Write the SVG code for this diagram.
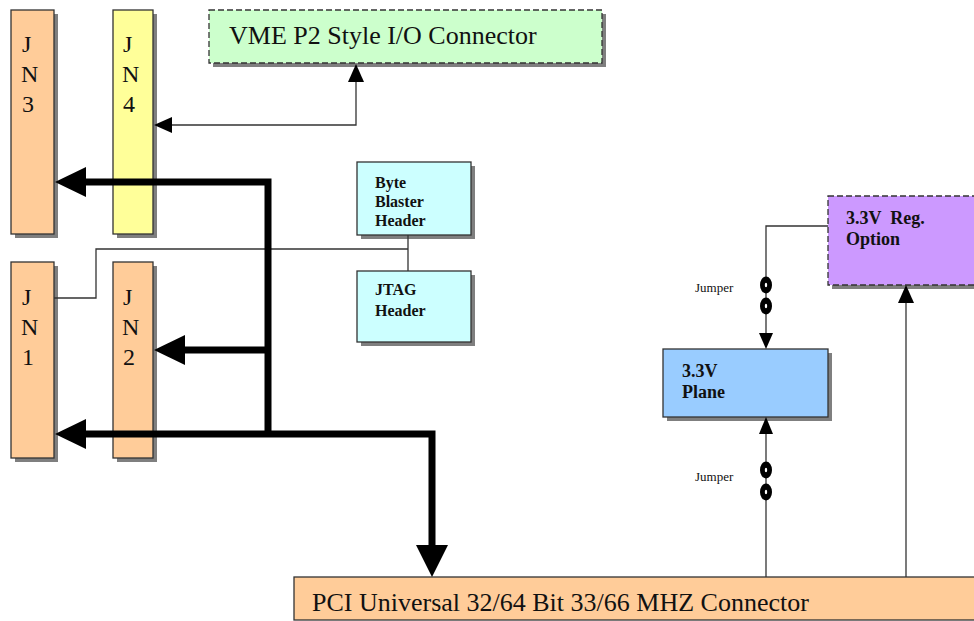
<svg xmlns="http://www.w3.org/2000/svg" width="974" height="621" viewBox="0 0 974 621">
<style>
.box{stroke:#333;stroke-width:1.3}
.sh{fill:#7f7f7f}
.dash{stroke-dasharray:6,3}
text{font-family:'Liberation Serif','Times New Roman','DejaVu Serif',serif;fill:#111}
.big{font-size:24px}
.lbl{font-size:26px}
.bold{font-weight:bold;font-size:16px}
.bold18{font-weight:bold;font-size:18px}
.small{font-size:13px}
.thin{fill:none;stroke:#333;stroke-width:1.3}
.bus{fill:none;stroke:#000;stroke-width:7}
</style>
<rect width="974" height="621" fill="#fff"/>
<g id="jn3">
<rect class="sh" x="15" y="14" width="43" height="224"/>
<rect class="box" x="11" y="10" width="43" height="224" fill="#FFCC99"/>
<text class="big" x="22" y="52">J</text><text class="big" x="21" y="82">N</text><text class="big" x="22" y="112">3</text>
</g>
<g id="jn4">
<rect class="sh" x="117" y="14" width="40" height="224"/>
<rect class="box" x="113" y="10" width="40" height="224" fill="#FFFF99"/>
<text class="big" x="123" y="52">J</text><text class="big" x="122" y="82">N</text><text class="big" x="123" y="112">4</text>
</g>
<g id="jn1">
<rect class="sh" x="15" y="266" width="43" height="196"/>
<rect class="box" x="11" y="262" width="43" height="196" fill="#FFCC99"/>
<text class="big" x="22" y="305">J</text><text class="big" x="21" y="335">N</text><text class="big" x="22" y="365">1</text>
</g>
<g id="jn2">
<rect class="sh" x="117" y="266" width="40" height="196"/>
<rect class="box" x="113" y="262" width="40" height="196" fill="#FFCC99"/>
<text class="big" x="123" y="305">J</text><text class="big" x="122" y="335">N</text><text class="big" x="123" y="365">2</text>
</g>
<g id="vme">
<rect class="sh" x="213" y="14" width="393" height="53"/>
<rect class="box dash" x="209" y="10" width="393" height="53" fill="#CCFFCC"/>
<text class="lbl" x="229" y="44">VME P2 Style I/O Connector</text>
</g>
<g id="byteblaster">
<rect class="sh" x="361" y="166" width="114" height="73"/>
<rect class="box" x="357" y="162" width="114" height="73" fill="#CCFFFF"/>
<text class="bold" x="375" y="188">Byte</text><text class="bold" x="375" y="207">Blaster</text><text class="bold" x="375" y="226">Header</text>
</g>
<g id="jtag">
<rect class="sh" x="361" y="275" width="114" height="71"/>
<rect class="box" x="357" y="271" width="114" height="71" fill="#CCFFFF"/>
<text class="bold" x="375" y="295">JTAG</text><text class="bold" x="375" y="316">Header</text>
</g>
<g id="reg">
<rect class="sh" x="832" y="200" width="150" height="89"/>
<rect class="box dash" x="828" y="196" width="150" height="89" fill="#CC99FF"/>
<text class="bold18" x="846" y="224" xml:space="preserve">3.3V  Reg.</text><text class="bold18" x="846" y="245">Option</text>
</g>
<g id="plane">
<rect class="sh" x="667" y="353" width="165" height="68"/>
<rect class="box" x="663" y="349" width="165" height="68" fill="#99CCFF"/>
<text class="bold18" x="682" y="377">3.3V</text><text class="bold18" x="682" y="398">Plane</text>
</g>
<g id="pci">
<rect class="box" x="294" y="577" width="690" height="43" fill="#FFCC99"/>
<text class="lbl" x="312" y="611">PCI Universal 32/64 Bit 33/66 MHZ Connector</text>
</g>
<g id="connectors">
<path class="thin" d="M172,125 H356 V80"/>
<polygon points="154,125 172,117 172,133" fill="#000"/>
<polygon points="356,64 348,82 364,82" fill="#000"/>
<path class="thin" d="M54,298 H96 V249 H408 M408,235 V271"/>
<path class="bus" d="M268,434 V182 H84 M268,350 H184 M432,545 V434 H84"/>
<polygon points="55,182 86,167 86,197" fill="#000"/>
<polygon points="154,350 185,335 185,365" fill="#000"/>
<polygon points="55,434 86,419 86,449" fill="#000"/>
<polygon points="432,577 416,545 448,545" fill="#000"/>
<path class="thin" d="M828,226 H766 V335"/>
<polygon points="766,349 759,333 773,333" fill="#000"/>
<path class="thin" d="M766,577 V432"/>
<polygon points="766,417 759,434 773,434" fill="#000"/>
<path class="thin" d="M906,577 V300"/>
<polygon points="906,285 898,303 914,303" fill="#000"/>
</g>
<g id="jumper1">
<ellipse cx="766" cy="285" rx="6" ry="8.5" fill="#000"/><ellipse cx="766" cy="285" rx="1.2" ry="2.2" fill="#fff"/>
<ellipse cx="766" cy="306" rx="6" ry="8.5" fill="#000"/><ellipse cx="766" cy="306" rx="1.2" ry="2.2" fill="#fff"/>
<text class="small" x="695" y="292">Jumper</text>
</g>
<g id="jumper2">
<ellipse cx="766" cy="470" rx="6" ry="8.5" fill="#000"/><ellipse cx="766" cy="470" rx="1.2" ry="2.2" fill="#fff"/>
<ellipse cx="766" cy="492" rx="6" ry="8.5" fill="#000"/><ellipse cx="766" cy="492" rx="1.2" ry="2.2" fill="#fff"/>
<text class="small" x="695" y="481">Jumper</text>
</g>
</svg>
